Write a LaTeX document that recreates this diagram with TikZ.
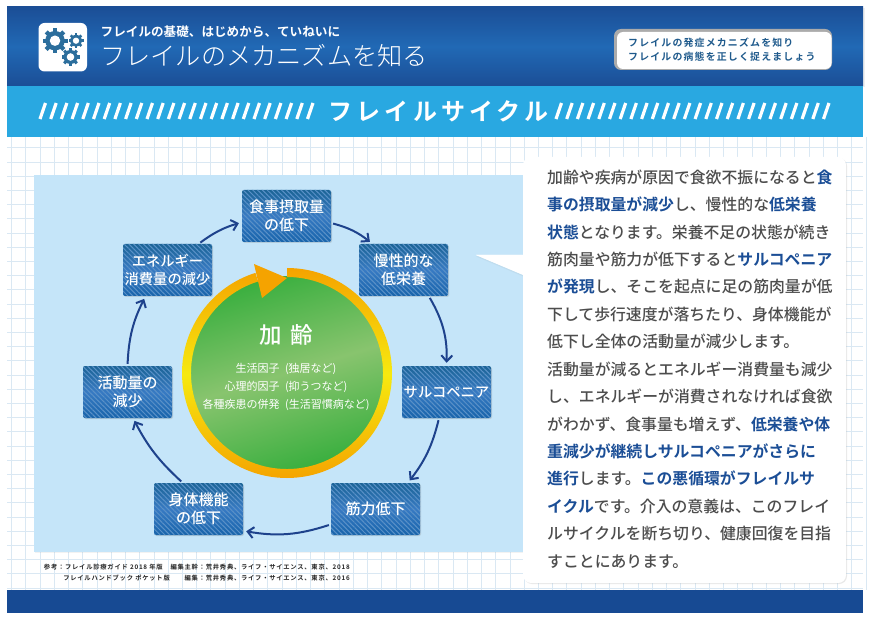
\documentclass[tikz,border=0pt]{standalone}
\usepackage{fontspec}
\setmainfont{Noto Sans CJK JP}
\newfontfamily\jplight{Noto Sans CJK JP Light}
\newfontfamily\jpmedium{Noto Sans CJK JP Medium}
\newfontfamily\jpbold{Noto Sans CJK JP Bold}
\newfontfamily\jpwide[LetterSpace=12]{Noto Sans CJK JP Bold}
\newfontfamily\jptitle[LetterSpace=17]{Noto Sans CJK JP Bold}
\usetikzlibrary{arrows.meta, patterns.meta, shadows}
\definecolor{navyblue}{RGB}{27, 78, 150}
\definecolor{midblue}{RGB}{33, 105, 181}
\definecolor{bandblue}{RGB}{41, 168, 225}
\definecolor{footblue}{RGB}{23, 74, 147}
\definecolor{panelblue}{RGB}{197, 229, 249}
\definecolor{gridblue}{RGB}{218, 232, 243}
\definecolor{gearblue}{RGB}{44, 110, 156}
\definecolor{boxtop}{RGB}{28, 100, 150}
\definecolor{boxmid}{RGB}{55, 122, 195}
\definecolor{boxbot}{RGB}{24, 100, 170}
\definecolor{boxstripe}{RGB}{90, 145, 200}
\definecolor{arrowblue}{RGB}{30, 66, 140}
\definecolor{ringorange}{RGB}{245, 163, 0}
\definecolor{ringyellow}{RGB}{246, 233, 16}
\definecolor{leafgreen}{RGB}{58, 175, 63}
\definecolor{paleleaf}{RGB}{136, 196, 110}
\definecolor{bodygrey}{RGB}{77, 77, 77}
\definecolor{pilltext}{RGB}{31, 90, 140}
\newcommand{\hl}[1]{{\color{navyblue}\jpbold #1}}
\tikzset{
  cyclebox/.style={minimum width=89pt, minimum height=52pt, inner sep=0pt, rounded corners=2pt,
    top color=boxtop, bottom color=boxbot, middle color=boxmid,
    drop shadow={shadow xshift=1pt, shadow yshift=-1pt, opacity=.25},
    postaction={pattern={Lines[angle=-45, distance=3.4pt, line width=1pt]}, pattern color=boxstripe},
    text=white, align=center, font=\jpmedium\fontsize{15}{17.5}\selectfont},
  narrowbox/.style={cyclebox, font=\jpmedium\fontsize{14.3}{17.5}\selectfont},
  cyclearrow/.style={line width=2pt, arrowblue, -{Straight Barb[length=6pt, width=11pt, line width=2pt]}, shorten <=2pt, shorten >=3pt},
  gridline/.style={gridblue, line width=.8pt},
  slash/.style={white, line width=3.2pt},
  lighttext/.style={text=white, inner sep=0pt},
  gearicon/.pic={
    \fill[gearblue] (0,0) circle[radius=.78];
    \foreach \a in {0,45,...,315}
      \fill[gearblue, rotate=\a] (.7,-.17) rectangle (1,.17);
    \fill[white] (0,0) circle[radius=.42];
  }
}
\begin{document}
\begin{tikzpicture}[x=1pt, y=-1pt]
  \useasboundingbox (0,0) rectangle (870,620);
  \fill[white] (0,0) rectangle (870,620);

  % grid paper
  \foreach \i in {0,...,60}
    \draw[gridline] ({11.5+14.24*\i},137) -- ({11.5+14.24*\i},590);
  \foreach \i in {0,...,31}
    \draw[gridline] (7,{588-14.2*\i}) -- (863,{588-14.2*\i});

  % header and bands
  \fill[white, drop shadow={shadow xshift=2pt, shadow yshift=-1pt, opacity=.12}] (7,7) rectangle (863,86);
  \shade[top color=navyblue, bottom color=navyblue, middle color=midblue] (7,7) rectangle (863,86);
  \fill[bandblue] (7,86) rectangle (863,137);
  \fill[footblue] (7,590) rectangle (863,613);

  % gear icon
  \fill[white, rounded corners=6pt] (38.5,23) rectangle (87,71.5);
  \pic[scale=12.5] at (55,40.7) {gearicon};
  \pic[scale=7.5] at (76,40.7) {gearicon};
  \pic[scale=9] at (70.5,57) {gearicon};

  % header texts
  \node[lighttext, anchor=west] (subtitle) at (100.5,32) {\jpbold\fontsize{12.6}{14}\selectfont フレイルの基礎、はじめから、ていねいに};
  \node[lighttext, anchor=west] (title) at (100,56) {\jplight\fontsize{25.2}{28}\selectfont フレイルのメカニズムを知る};

  % pill at the right
  \fill[black!33, rounded corners=7pt] (614,29) rectangle (832,70);
  \fill[white, rounded corners=6pt] (617,32) rectangle (831.5,69);
  \node[anchor=west, inner sep=0pt, text=pilltext, align=left, font=\jpwide\fontsize{9.9}{14.5}\selectfont] (aim) at (628,49.5)
    {フレイルの発症メカニズムを知り\\フレイルの病態を正しく捉えましょう};

  % band title with slashes
  \foreach \i in {0,...,25}{
    \draw[slash] ({40+10.7*\i},119) -- ({45.5+10.7*\i},103);
    \draw[slash] ({556+10.7*\i},119) -- ({561.5+10.7*\i},103);
  }
  \node[lighttext] (bandtitle) at (438.5,111.5) {\jptitle\fontsize{24}{26}\selectfont フレイルサイクル};

  % panel behind the cycle
  \fill[panelblue, drop shadow={shadow xshift=1pt, shadow yshift=-1pt, opacity=.1}] (34,175.5) rectangle (530,552);

  % ageing circle
  \shade[top color=leafgreen, bottom color=leafgreen, middle color=paleleaf, shading angle=17] (287,373) circle[radius=97];
  \shade[top color=ringorange, bottom color=ringorange, middle color=ringyellow]
    (287,268) arc[start angle=-90, end angle=252.5, radius=105]
    -- ({287+96*cos(252.5)},{373+96*sin(252.5)}) arc[start angle=252.5, end angle=-90, radius=96] -- cycle;
  \fill[ringorange] (254,264) -- (287,278) -- (262,298) -- cycle;
  \node[lighttext] (ageing) at (286.5,335) {\jpmedium\fontsize{22.5}{24}\selectfont 加\hspace{.4em}齢};
  \node[lighttext, align=center, font=\fontsize{11}{18}\selectfont] (factors) at (286,387)
    {生活因子\hspace{.5em}(独居など)\\心理的因子\hspace{.5em}(抑うつなど)\\各種疾患の併発\hspace{.5em}(生活習慣病など)};

  % cycle boxes
  \node[cyclebox] (intake) at (286.5,216) {食事摂取量\\の低下};
  \node[cyclebox] (chronic) at (403.5,270) {慢性的な\\低栄養};
  \node[narrowbox] (sarco) at (446.5,392) {サルコペニア};
  \node[cyclebox] (muscle) at (375.5,509) {筋力低下};
  \node[cyclebox] (function) at (198.5,509) {身体機能\\の低下};
  \node[cyclebox] (activity) at (127.5,392) {活動量の\\減少};
  \node[narrowbox] (energy) at (167.5,270) {エネルギー\\消費量の減少};

  % cycle arrows
  \draw[cyclearrow] (intake.-9) to[bend left=12] (chronic.140);
  \draw[cyclearrow] (chronic.-46) to[bend left=16] (sarco.north);
  \draw[cyclearrow] (sarco.-106) to[bend left=12] (muscle.39);
  \draw[cyclearrow] (muscle.199) to[bend left=14] (function.-26);
  \draw[cyclearrow] (function.121) to[bend left=10] (activity.-78);
  \draw[cyclearrow] (activity.north) to[bend left=12] (energy.230);
  \draw[cyclearrow] (energy.40) to[bend left=10] (intake.188);

  % explanation panel
  \fill[white, drop shadow={shadow xshift=0pt, shadow yshift=-1.5pt, opacity=.08}] (476,255) -- (528,255) -- (528,277) -- cycle;
  \fill[white, rounded corners=8pt, drop shadow={shadow xshift=1pt, shadow yshift=-1pt, opacity=.18}] (523,157) rectangle (846,583);
  \fill[white] (476,255) -- (526,255) -- (526,276) -- cycle;
  \node[anchor=north west, inner sep=0pt, align=left, text=bodygrey, font=\jpmedium\fontsize{15.85}{27.43}\selectfont] (story) at (547,169.5)
    {加齢や疾病が原因で食欲不振になると\hl{食}\\
     \hl{事の摂取量が減少}し、慢性的な\hl{低栄養}\\
     \hl{状態}となります。栄養不足の状態が続き\\
     筋肉量や筋力が低下すると\hl{サルコペニア}\\
     \hl{が発現}し、そこを起点に足の筋肉量が低\\
     下して歩行速度が落ちたり、身体機能が\\
     低下し全体の活動量が減少します。\\
     活動量が減るとエネルギー消費量も減少\\
     し、エネルギーが消費されなければ食欲\\
     がわかず、食事量も増えず、\hl{低栄養や体}\\
     \hl{重減少が継続しサルコペニアがさらに}\\
     \hl{進行}します。\hl{この悪循環がフレイルサ}\\
     \hl{イクル}です。介入の意義は、このフレイ\\
     ルサイクルを断ち切り、健康回復を目指\\
     すことにあります。};

  % references
  \node[anchor=east, inner sep=0pt, text=black!85, font=\jpwide\fontsize{6.3}{11}\selectfont] (refone) at (350,567)
    {参考：フレイル診療ガイド 2018 年版　編集主幹：荒井秀典、ライフ・サイエンス、東京、2018};
  \node[anchor=east, inner sep=0pt, text=black!85, font=\jpwide\fontsize{6.3}{11}\selectfont] (reftwo) at (350,578)
    {フレイルハンドブック ポケット版　　編集：荒井秀典、ライフ・サイエンス、東京、2016};
\end{tikzpicture}
\end{document}
